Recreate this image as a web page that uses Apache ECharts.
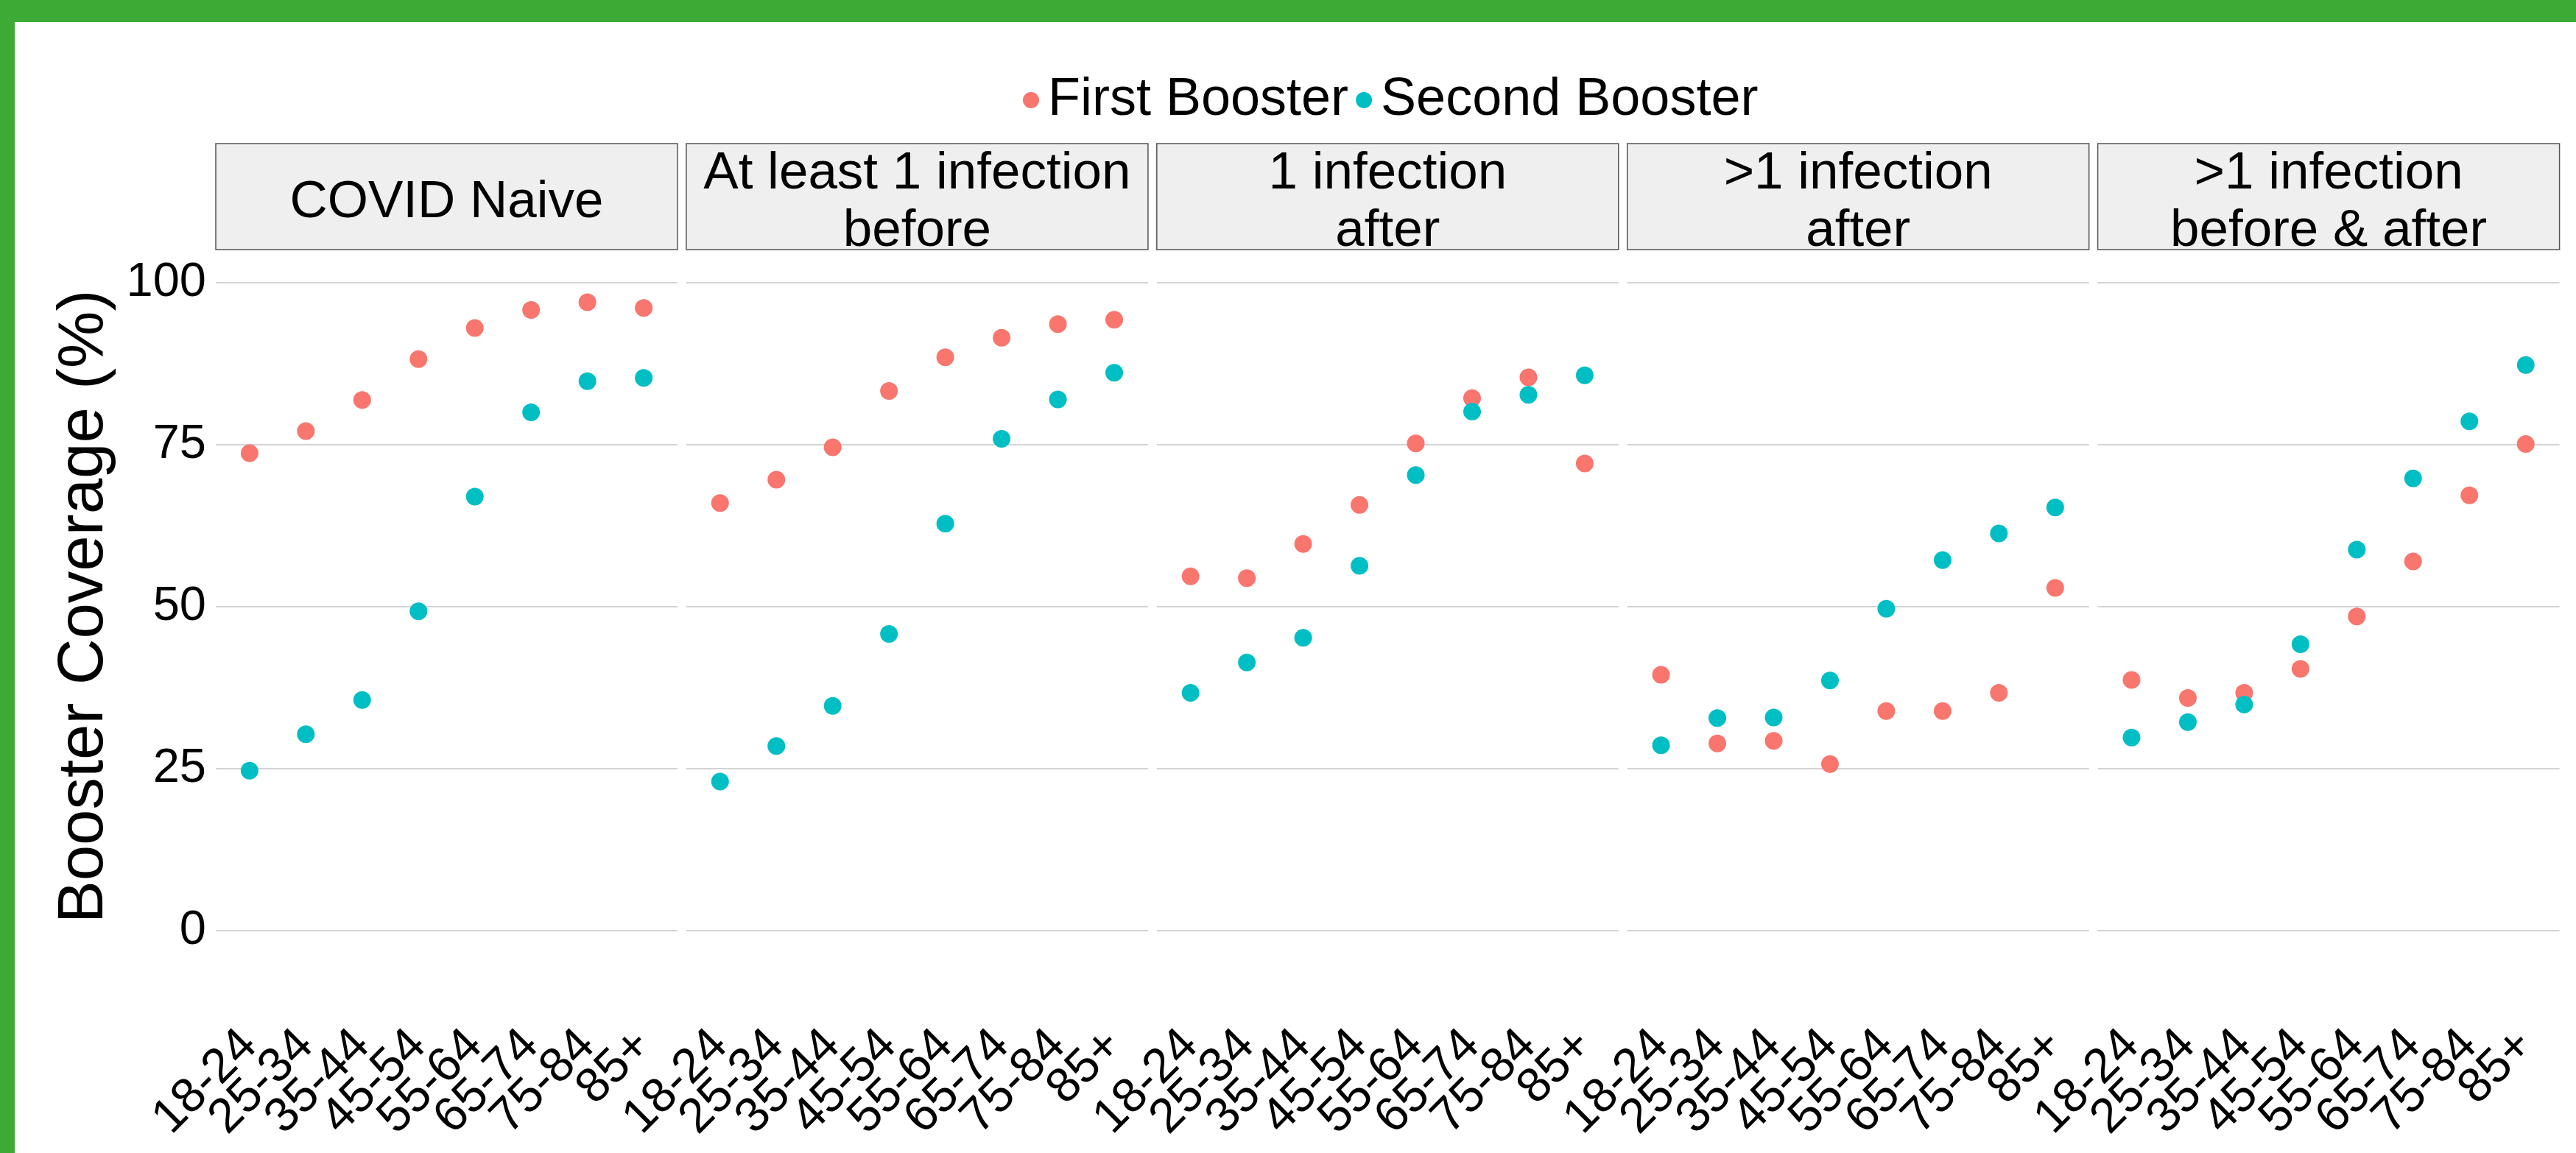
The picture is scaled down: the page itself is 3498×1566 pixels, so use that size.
<!DOCTYPE html>
<html>
<head>
<meta charset="utf-8">
<script src="https://cdn.jsdelivr.net/npm/echarts@6/dist/echarts.min.js"></script>
<style>
html,body{margin:0;padding:0;background:#fff;}
#chart{width:3498px;height:1566px;}
</style>
</head>
<body>
<div id="chart"></div>
<script>
// ---- data ----
const ageGroups = ['18-24','25-34','35-44','45-54','55-64','65-74','75-84','85+'];
const panelNames = ['COVID Naive','At least 1 infection\nbefore','1 infection\nafter','>1 infection\nafter','>1 infection\nbefore & after'];
const seriesNames = ['First Booster','Second Booster'];

const firstNaive        = [73.7, 77.1, 81.9, 88.2, 93.0, 95.8, 97.0, 96.1];
const secondNaive       = [24.7, 30.3, 35.6, 49.3, 67.0, 80.0, 84.8, 85.3];
const firstBefore       = [66.0, 69.6, 74.6, 83.3, 88.5, 91.5, 93.6, 94.3];
const secondBefore      = [23.0, 28.5, 34.7, 45.8, 62.8, 75.9, 82.0, 86.1];
const firstOneAfter     = [54.7, 54.4, 59.7, 65.7, 75.2, 82.2, 85.4, 72.1];
const secondOneAfter    = [36.7, 41.4, 45.2, 56.3, 70.3, 80.1, 82.7, 85.7];
const firstMultiAfter   = [39.5, 28.9, 29.3, 25.7, 33.9, 33.9, 36.7, 52.9];
const secondMultiAfter  = [28.6, 32.8, 32.9, 38.6, 49.7, 57.2, 61.3, 65.3];
const firstBeforeAfter  = [38.7, 35.9, 36.7, 40.4, 48.5, 57.0, 67.2, 75.1];
const secondBeforeAfter = [29.8, 32.2, 34.9, 44.2, 58.8, 69.8, 78.6, 87.3];

const firstData  = [firstNaive, firstBefore, firstOneAfter, firstMultiAfter, firstBeforeAfter];
const secondData = [secondNaive, secondBefore, secondOneAfter, secondMultiAfter, secondBeforeAfter];

// ---- layout ----
const FONT = "'Liberation Sans', Arial, Helvetica, sans-serif";
const colors = ['#F8766D', '#00BFC4'];
const panelLeft0 = 293, panelStep = 638.9, panelW = 627;
const unit = panelW / 8.2;              // ggplot discrete expansion of 0.6 on each side
const gridTop = 384, gridH = 880;
const stripTop = 195, stripH = 144;

const chart = echarts.init(document.getElementById('chart'), null, {renderer: 'canvas'});

const grids = [], xAxes = [], yAxes = [], series = [], graphics = [];

// green frame
graphics.push({type:'rect', shape:{x:0,y:0,width:3498,height:30}, style:{fill:'#3DAA35'}, silent:true});
graphics.push({type:'rect', shape:{x:0,y:0,width:20,height:1566}, style:{fill:'#3DAA35'}, silent:true});

panelNames.forEach((name, i) => {
  const left = panelLeft0 + i * panelStep;
  const gA = 2 * i, gB = 2 * i + 1;
  // grid A: full panel width -> horizontal grid lines + y labels
  grids.push({left: left, top: gridTop, width: panelW, height: gridH});
  xAxes.push({type: 'value', gridIndex: gA, min: 0, max: 1, show: false});
  yAxes.push({
    type: 'value', gridIndex: gA, min: 0, max: 100, interval: 25,
    axisLine: {show: false}, axisTick: {show: false},
    splitLine: {show: true, lineStyle: {color: '#D3D3D3', width: 2}},
    axisLabel: {show: i === 0, fontSize: 65, fontFamily: FONT, color: '#000', margin: 13},
    name: i === 0 ? 'Booster Coverage (%)' : '',
    nameLocation: 'middle', nameGap: 134,
    nameTextStyle: {fontSize: 87, fontFamily: FONT, color: '#000'}
  });
  // grid B: category positions (inset by the 0.1 unit difference in expansion)
  grids.push({left: left + 0.1 * unit, top: gridTop, width: 8 * unit, height: gridH});
  xAxes.push({
    type: 'category', gridIndex: gB, data: ageGroups, boundaryGap: true,
    axisLine: {show: false}, axisTick: {show: false}, splitLine: {show: false},
    axisLabel: {interval: 0, rotate: 45, margin: 146, fontSize: 66,
      fontFamily: FONT, color: '#000', showMinLabel: true, showMaxLabel: true}
  });
  yAxes.push({type: 'value', gridIndex: gB, min: 0, max: 100, show: false, splitLine: {show: false}});
  series.push({
    type: 'scatter', name: seriesNames[0], xAxisIndex: gB, yAxisIndex: gB,
    symbol: 'circle', symbolSize: 24, itemStyle: {color: colors[0], opacity: 1},
    data: firstData[i], z: 2
  });
  series.push({
    type: 'scatter', name: seriesNames[1], xAxisIndex: gB, yAxisIndex: gB,
    symbol: 'circle', symbolSize: 24, itemStyle: {color: colors[1], opacity: 1},
    data: secondData[i], z: 3
  });
  graphics.push({
    type: 'rect', shape: {x: left, y: stripTop, width: panelW, height: stripH},
    style: {fill: '#EFEFEF', stroke: '#555', lineWidth: 1.5}, silent: true
  });
  graphics.push({
    type: 'text', x: left + panelW / 2, y: 275,
    style: {text: name, font: '71px ' + FONT, fill: '#000', align: 'center', verticalAlign: 'middle', lineHeight: 78},
    silent: true
  });
});

chart.setOption({
  backgroundColor: '#fff',
  animation: false,
  legend: {
    data: seriesNames, left: 1389, top: 100, orient: 'horizontal',
    icon: 'circle', itemWidth: 36, itemHeight: 22, itemGap: 10, padding: 0,
    textStyle: {fontSize: 72, fontFamily: FONT, color: '#000', lineHeight: 72}
  },
  grid: grids, xAxis: xAxes, yAxis: yAxes, series: series,
  graphic: graphics
});
</script>
</body>
</html>
